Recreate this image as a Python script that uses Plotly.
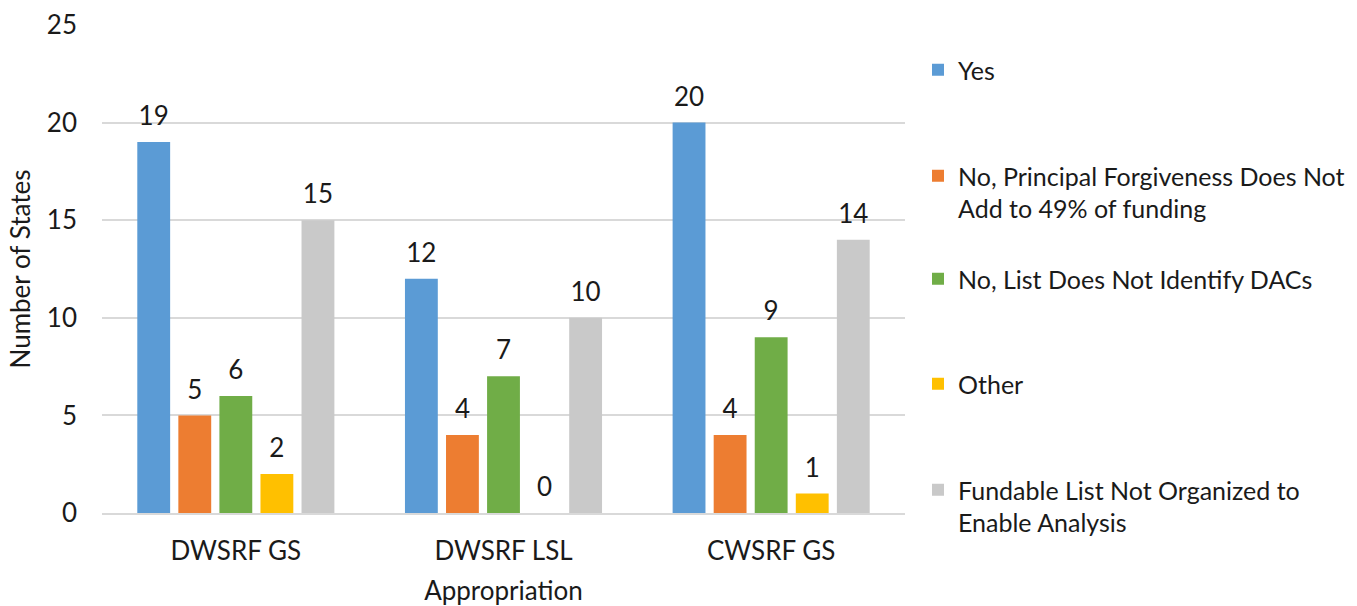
import plotly.graph_objects as go

categories = ["DWSRF GS", "DWSRF LSL", "CWSRF GS"]
series_names = [
    "Yes",
    "No, Principal Forgiveness Does Not<br>Add to 49% of funding",
    "No, List Does Not Identify DACs",
    "Other",
    "Fundable List Not Organized to<br>Enable Analysis",
]
yes_vals = [19, 12, 20]
no_pf_vals = [5, 4, 4]
no_dac_vals = [6, 7, 9]
other_vals = [2, 0, 1]
fundable_vals = [15, 10, 14]
colors = ["#5B9BD5", "#ED7D31", "#70AD47", "#FFC000", "#C9C9C9"]
y_ticks = [0, 5, 10, 15, 20, 25]

all_vals = [yes_vals, no_pf_vals, no_dac_vals, other_vals, fundable_vals]

W, H = 1357, 606
L, R, T, B = 102, 452, 25, 93
FONT = "Lato"
FS = 26
LFS = 25
TXT = "#1a1a1a"
BARGAP = 0.233

# legend first-line centers in pixels
legend_centers = [71, 177, 280, 385, 491]

fig = go.Figure()
for i, (name, vals, col) in enumerate(zip(series_names, all_vals, colors)):
    lg = "legend" if i == 0 else f"legend{i+1}"
    fig.add_trace(go.Bar(
        x=categories, y=vals, name=name, marker_color=col,
        marker_line_width=0, legend=lg, hoverinfo="x+y+name",
    ))
# value labels: scatter traces grouped like the bars, invisible marker pushes text up
for i, vals in enumerate(all_vals):
    fig.add_trace(go.Scatter(
        x=categories, y=vals, mode="markers+text", text=[str(v) for v in vals],
        textposition="top center",
        marker=dict(size=15, color="rgba(0,0,0,0)"),
        textfont=dict(family=FONT, size=FS, color=TXT),
        showlegend=False, cliponaxis=False, hoverinfo="skip",
    ))

plot_h = H - T - B
plot_w = W - L - R
legends = {}
for i, cy in enumerate(legend_centers):
    key = "legend" if i == 0 else f"legend{i+1}"
    legends[key] = dict(
        x=(918 - L) / plot_w, xanchor="left",
        y=(H - B - (cy - 24)) / plot_h, yanchor="top",
        valign="top",
        font=dict(family=FONT, size=LFS, color=TXT),
        bgcolor="rgba(0,0,0,0)", borderwidth=0,
        tracegroupgap=0,
    )

fig.update_layout(
    width=W, height=H,
    margin=dict(l=L, r=R, t=T, b=B, autoexpand=False),
    paper_bgcolor="white", plot_bgcolor="white",
    barmode="group", bargap=BARGAP, bargroupgap=0.2,
    scattermode="group", scattergap=BARGAP,
    font=dict(family=FONT, size=FS, color=TXT),
    showlegend=True,
    **legends,
)
fig.update_xaxes(
    showgrid=False, showline=True, linecolor="#d9d9d9", linewidth=1.5,
    ticks="", ticklabelstandoff=14, tickfont=dict(family=FONT, size=FS, color=TXT),
    title=dict(text="Appropriation", font=dict(family=FONT, size=FS, color=TXT), standoff=20),
)
fig.update_yaxes(
    range=[0, 25], tickvals=y_ticks, showgrid=True, gridcolor="#d9d9d9", gridwidth=1.5,
    zeroline=False, showline=False, ticks="", ticklabelstandoff=24,
    tickfont=dict(family=FONT, size=FS, color=TXT),
    title=dict(text="Number of States", font=dict(family=FONT, size=FS, color=TXT), standoff=8),
)

fig.write_html("out.html")
